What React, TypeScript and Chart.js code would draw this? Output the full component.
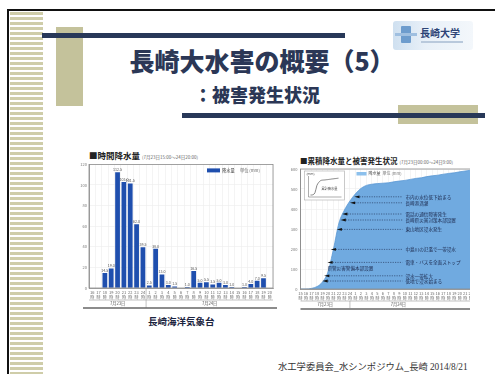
import React, { useEffect, useRef } from "react";
import { Chart, registerables } from "chart.js";

Chart.register(...registerables);

const FONT = "'Noto Sans CJK JP', 'Noto Sans', sans-serif";

// ---- left chart: hourly rainfall (mm) ----
const rainHours = ["16", "17", "18", "19", "20", "21", "22", "23", "24", "1", "2", "3", "4", "5", "6", "7", "8", "9", "10", "11", "12", "13", "14", "15", "16", "17", "18", "19", "20"];
const rainValues = [0, 0, 14.5, 19, 112.5, 103, 101.5, 62, 39.5, 2.5, 38, 13, 3, 1.5, 0, 1, 16.5, 5, 5.5, 3.5, 5, 3, 1, 0, 1, 4, 7, 9.5, 0];
const rainTicks = [0, 20, 40, 60, 80, 100, 120];
const rainDays = ["7月23日", "7月24日"];
const rainDayStart = [0, 9];

// ---- right chart: cumulative rainfall (mm) ----
const cumHours = ["15", "16", "17", "18", "19", "20", "21", "22", "23", "24", "1", "2", "3", "4", "5", "6", "7", "8", "9", "10", "11", "12", "13", "14", "15", "16", "17", "18", "19", "20", "21", "22"];
const cumValues = [0, 0, 3, 12, 35, 85, 200, 330, 395, 440, 476, 503, 518, 524, 527, 529, 531, 536, 540, 543, 548, 553, 556, 562, 566, 569, 574, 578, 581, 586, 590, 594];
const cumTicks = [0, 100, 200, 300, 400, 500, 600];
const cumDays = ["7月23日", "7月24日"];
const cumDayStart = [0, 9];

// damage events: label, time position (category index), cumulative level (mm)
const eventLabels = ["市内の水位低下始まる", "長崎港満潮", "電話の通信障害発生", "長崎県災害対策本部設置", "東山地区浸水発生", "中島川の氾濫で一帯浸水", "電車・バスを全面ストップ", "浸水一帯拡大", "低地で浸水始まる"];
const eventIndex = [10.2, 9.4, 8.0, 7.7, 7.0, 5.9, 5.3, 4.7, 4.4];
const eventLevel = [461, 431, 375, 345, 298, 198, 133, 66, 40];
const noteLabel = "県警災害警備本部設置";
const noteIndex = 4.9;
const noteLevel = 106;

const barDeco = {
  id: "barDeco",
  afterDatasetsDraw(chart: any) {
    const { ctx, chartArea: a, scales } = chart;
    const xs = scales.x;
    ctx.save();
    ctx.strokeStyle = "#8c8c8c";
    ctx.lineWidth = 0.8;
    ctx.strokeRect(a.left, a.top, a.right - a.left, a.bottom - a.top);
    const meta = chart.getDatasetMeta(0);
    ctx.fillStyle = "#555";
    ctx.font = `3.6px ${FONT}`;
    ctx.textAlign = "center";
    ctx.textBaseline = "bottom";
    rainValues.forEach((v, i) => {
      if (v > 0) {
        const el = meta.data[i];
        ctx.fillText(v.toFixed(1), el.x, el.y - 0.8);
      }
    });
    const lx = a.right - 66;
    const ly = a.top + 4;
    ctx.fillStyle = "#1f4fae";
    ctx.fillRect(lx, ly, 13, 4);
    ctx.fillStyle = "#333";
    ctx.font = `4.2px ${FONT}`;
    ctx.textAlign = "left";
    ctx.textBaseline = "middle";
    ctx.fillText("降水量", lx + 15, ly + 2);
    ctx.fillStyle = "#666";
    ctx.fillText("単位 (mm)", lx + 33, ly + 2);
    const yb = a.bottom;
    ctx.strokeStyle = "#999";
    ctx.lineWidth = 0.6;
    ctx.beginPath();
    ctx.moveTo(a.left, yb + 12);
    ctx.lineTo(a.right, yb + 12);
    ctx.stroke();
    rainDays.forEach((d, k) => {
      const s = rainDayStart[k];
      const e = k + 1 < rainDayStart.length ? rainDayStart[k + 1] : rainHours.length;
      const x0 = xs.getPixelForValue(s - 0.5);
      const x1 = xs.getPixelForValue(e - 0.5);
      if (k > 0) {
        ctx.beginPath();
        ctx.moveTo(x0, yb);
        ctx.lineTo(x0, yb + 20);
        ctx.stroke();
      }
      ctx.fillStyle = "#555";
      ctx.font = `4.2px ${FONT}`;
      ctx.textAlign = "center";
      ctx.fillText(d, (x0 + x1) / 2, yb + 15.5);
    });
    ctx.strokeStyle = "#666";
    ctx.lineWidth = 1.4;
    ctx.beginPath();
    ctx.moveTo(a.left - 6, yb + 20);
    ctx.lineTo(a.right + 4, yb + 20);
    ctx.stroke();
    ctx.restore();
  },
};

const areaDeco = {
  id: "areaDeco",
  afterDatasetsDraw(chart: any) {
    const { ctx, chartArea: a, scales } = chart;
    const xs = scales.x;
    const ys = scales.y;
    ctx.save();
    ctx.strokeStyle = "#8c8c8c";
    ctx.lineWidth = 0.8;
    ctx.strokeRect(a.left, a.top, a.right - a.left, a.bottom - a.top);

    const bx = a.left + 4;
    const by = a.top + 2;
    const bw = 40;
    const bh = 29;
    ctx.fillStyle = "#fff";
    ctx.fillRect(bx, by, bw, bh);
    ctx.strokeStyle = "#aaa";
    ctx.lineWidth = 0.6;
    ctx.strokeRect(bx, by, bw, bh);
    ctx.strokeStyle = "#777";
    ctx.beginPath();
    ctx.moveTo(bx + 4, by + 5);
    ctx.lineTo(bx + 4, by + bh - 3);
    ctx.lineTo(bx + bw - 3, by + bh - 3);
    ctx.stroke();
    ctx.strokeStyle = "#555";
    ctx.lineWidth = 0.7;
    ctx.beginPath();
    cumValues.forEach((v, i) => {
      const px = bx + 6 + (i / (cumValues.length - 1)) * (bw - 12);
      const py = by + bh - 5 - (v / 600) * (bh - 12);
      if (i === 0) ctx.moveTo(px, py);
      else ctx.lineTo(px, py);
    });
    ctx.stroke();
    ctx.fillStyle = "#444";
    ctx.font = `3.2px ${FONT}`;
    ctx.textAlign = "left";
    ctx.textBaseline = "middle";
    ctx.fillText("(mm)", bx + 2, by + 3);
    ctx.fillText("累計降水量", bx + 17, by + 18);

    const lx = a.left + 56;
    const ly = a.top + 3;
    ctx.fillStyle = "#8cc0ec";
    ctx.fillRect(lx, ly, 10, 3.5);
    ctx.fillStyle = "#444";
    ctx.font = `4px ${FONT}`;
    ctx.fillText("降水量", lx + 12, ly + 1.8);
    ctx.fillStyle = "#777";
    ctx.fillText("単位 (mm)", lx + 26, ly + 1.8);

    const tx = xs.getPixelForValue(19.1);
    eventLabels.forEach((label, i) => {
      const mx = xs.getPixelForValue(eventIndex[i]);
      const my = ys.getPixelForValue(eventLevel[i]);
      ctx.strokeStyle = "#1d2b4f";
      ctx.lineWidth = 0.6;
      ctx.setLineDash([1.2, 1.2]);
      ctx.beginPath();
      ctx.moveTo(mx + 3, my);
      ctx.lineTo(tx - 3, my);
      ctx.stroke();
      ctx.setLineDash([]);
      ctx.fillStyle = "#111";
      ctx.beginPath();
      ctx.moveTo(mx - 2.2, my);
      ctx.lineTo(mx + 3, my - 1.4);
      ctx.lineTo(mx + 3, my + 1.4);
      ctx.closePath();
      ctx.fill();
      ctx.fillStyle = "#1d2b4f";
      ctx.font = `4.6px ${FONT}`;
      ctx.textAlign = "left";
      ctx.textBaseline = "middle";
      ctx.fillText(label, tx, my);
    });
    ctx.fillStyle = "#1d2b4f";
    ctx.font = `4.6px ${FONT}`;
    ctx.fillText(noteLabel, xs.getPixelForValue(noteIndex), ys.getPixelForValue(noteLevel));

    const yb = a.bottom;
    ctx.strokeStyle = "#999";
    ctx.lineWidth = 0.6;
    ctx.beginPath();
    ctx.moveTo(a.left, yb + 12);
    ctx.lineTo(a.right, yb + 12);
    ctx.stroke();
    cumDays.forEach((d, k) => {
      const s = cumDayStart[k];
      const e = k + 1 < cumDayStart.length ? cumDayStart[k + 1] : cumHours.length - 1;
      const x0 = xs.getPixelForValue(s);
      const x1 = xs.getPixelForValue(e);
      if (k > 0) {
        ctx.beginPath();
        ctx.moveTo(x0, yb + 12);
        ctx.lineTo(x0, yb + 19);
        ctx.stroke();
      }
      ctx.fillStyle = "#555";
      ctx.font = `4.2px ${FONT}`;
      ctx.textAlign = "center";
      ctx.fillText(d, (x0 + x1) / 2 - (k > 0 ? 12 : 0), yb + 15.5);
    });
    ctx.strokeStyle = "#666";
    ctx.lineWidth = 1.4;
    ctx.beginPath();
    ctx.moveTo(a.left, yb + 20);
    ctx.lineTo(a.right, yb + 20);
    ctx.stroke();
    ctx.restore();
  },
};

export default function App() {
  const barRef = useRef<HTMLCanvasElement>(null);
  const areaRef = useRef<HTMLCanvasElement>(null);

  useEffect(() => {
    Chart.defaults.font.family = FONT;
    const bar = new Chart(barRef.current as HTMLCanvasElement, {
      type: "bar",
      data: {
        labels: rainHours,
        datasets: [
          {
            label: "降水量",
            data: rainValues,
            backgroundColor: "#1f4fae",
            barPercentage: 0.75,
            categoryPercentage: 1,
          },
        ],
      },
      options: {
        responsive: false,
        animation: false,
        layout: { padding: { top: 3, right: 5, left: 0, bottom: 0 } },
        plugins: { legend: { display: false }, tooltip: { enabled: false } },
        scales: {
          x: {
            grid: { color: "#ececec", lineWidth: 0.6, drawTicks: false },
            border: { color: "#8c8c8c", width: 0.8 },
            ticks: {
              autoSkip: false,
              maxRotation: 0,
              minRotation: 0,
              padding: 2,
              color: "#666",
              font: { size: 4, lineHeight: 1.2 },
              callback: (_v: any, i: number) => [rainHours[i], "時"],
            },
            afterFit: (s: any) => {
              s.height = 24;
            },
          },
          y: {
            min: 0,
            max: 120,
            grid: { color: "#ececec", lineWidth: 0.6, drawTicks: false },
            border: { color: "#8c8c8c", width: 0.8 },
            ticks: { color: "#777", padding: 2, font: { size: 4 } },
            afterBuildTicks: (s: any) => {
              s.ticks = rainTicks.map((v) => ({ value: v }));
            },
            afterFit: (s: any) => {
              s.width = 9;
            },
          },
        },
      },
      plugins: [barDeco],
    } as any);

    const area = new Chart(areaRef.current as HTMLCanvasElement, {
      type: "line",
      data: {
        labels: cumHours,
        datasets: [
          {
            label: "降水量",
            data: cumValues,
            fill: "origin",
            backgroundColor: "#70aae0",
            borderColor: "#5b98d4",
            borderWidth: 0.8,
            pointRadius: 0,
            cubicInterpolationMode: "monotone",
          },
        ],
      },
      options: {
        responsive: false,
        animation: false,
        layout: { padding: { top: 9, right: 3, left: 0, bottom: 0 } },
        plugins: { legend: { display: false }, tooltip: { enabled: false } },
        scales: {
          x: {
            grid: { color: "#ececec", lineWidth: 0.6, drawTicks: false },
            border: { color: "#8c8c8c", width: 0.8 },
            ticks: {
              autoSkip: false,
              maxRotation: 0,
              minRotation: 0,
              padding: 2,
              color: "#666",
              font: { size: 4, lineHeight: 1.2 },
              callback: (_v: any, i: number) => [cumHours[i], "時"],
            },
            afterFit: (s: any) => {
              s.height = 23;
            },
          },
          y: {
            min: 0,
            max: 600,
            grid: { color: "#ececec", lineWidth: 0.6, drawTicks: false },
            border: { color: "#8c8c8c", width: 0.8 },
            ticks: { color: "#777", padding: 3, font: { size: 4 } },
            afterBuildTicks: (s: any) => {
              s.ticks = cumTicks.map((v) => ({ value: v }));
            },
            afterFit: (s: any) => {
              s.width = 15.5;
            },
          },
        },
      },
      plugins: [areaDeco],
    } as any);

    return () => {
      bar.destroy();
      area.destroy();
    };
  }, []);

  const abs = (o: React.CSSProperties): React.CSSProperties => ({ position: "absolute", ...o });
  const navy = "#283858";
  const olive = "#c4c29b";

  return (
    <div
      style={{
        position: "fixed",
        left: 0,
        top: 0,
        width: 495,
        height: 374,
        background: "#fff",
        overflow: "hidden",
        fontFamily: FONT,
      }}
    >
      <div style={abs({ left: 7, top: 9, width: 488, height: 2, background: "#111" })} />
      <div style={abs({ left: 7, top: 9, width: 2, height: 365, background: "#111" })} />
      <div
        style={abs({
          left: 10,
          top: 12,
          width: 33,
          height: 362,
          background: "repeating-linear-gradient(to bottom, #cfcda9 0px, #cfcda9 3px, #ffffff 3px, #ffffff 5px)",
        })}
      />
      <div style={abs({ left: 56, top: 27, width: 27, height: 79, background: olive })} />
      <div style={abs({ left: 42, top: 33, width: 303, height: 5, background: navy })} />
      <div style={abs({ left: 398, top: 105, width: 80, height: 19, background: olive })} />
      <div style={abs({ left: 182, top: 113, width: 303, height: 5, background: navy })} />

      <div
        style={abs({
          left: 393,
          top: 21,
          width: 80,
          height: 29,
          background: "linear-gradient(90deg, #cfe0f0 0%, #e8f0f8 40%, #f3f7fb 100%)",
          borderRadius: 3,
        })}
      >
        <div style={abs({ left: 8, top: 5, width: 10, height: 17, background: "#6d9ccd", borderRadius: 1 })} />
        <div style={abs({ left: 2, top: 12, width: 22, height: 3, background: "#9fbfe0" })} />
        <div
          style={abs({
            left: 27,
            top: 7,
            fontSize: 10,
            lineHeight: "10px",
            fontWeight: 700,
            color: "#2d4476",
            whiteSpace: "nowrap",
          })}
        >
          長崎大学
        </div>
        <div style={abs({ left: 28, top: 20, width: 42, height: 2, background: "#b9c9dc" })} />
      </div>

      <div
        style={abs({
          left: 112,
          top: 48,
          width: 300,
          textAlign: "center",
          fontSize: 25,
          lineHeight: "25px",
          fontWeight: 900,
          color: "#2b3756",
          whiteSpace: "nowrap",
        })}
      >
        長崎大水害の概要（5）
      </div>
      <div
        style={abs({
          left: 194,
          top: 85,
          fontSize: 18,
          lineHeight: "18px",
          fontWeight: 900,
          color: "#2b3756",
          whiteSpace: "nowrap",
        })}
      >
        ：被害発生状況
      </div>

      <div style={abs({ left: 89, top: 151, fontSize: 8.5, lineHeight: "8.5px", fontWeight: 700, color: "#222", whiteSpace: "nowrap" })}>
        ■時間降水量
        <span style={{ fontSize: 4.5, fontWeight: 400, color: "#666", marginLeft: 2 }}>(7月23日15:00～24日20:00)</span>
      </div>
      <canvas ref={barRef} width={198} height={152} style={abs({ left: 80, top: 160 })} />

      <div style={abs({ left: 285, top: 150, width: 185, height: 165, overflow: "hidden" })}>
        <div style={abs({ left: 15, top: 7, fontSize: 7.5, lineHeight: "7.5px", fontWeight: 700, color: "#222", whiteSpace: "nowrap" })}>
          ■累積降水量と被害発生状況
          <span style={{ fontSize: 4.5, fontWeight: 400, color: "#666", marginLeft: 2 }}>(7月23日00:00～24日9:00)</span>
        </div>
        <canvas ref={areaRef} width={190} height={152} style={abs({ left: 0, top: 10 })} />
      </div>

      <div style={abs({ left: 148, top: 317, fontSize: 9.5, lineHeight: "9.5px", fontWeight: 700, color: "#1c2440", whiteSpace: "nowrap" })}>
        長崎海洋気象台
      </div>
      <div style={abs({ left: 278, top: 362, fontSize: 9.3, lineHeight: "9.3px", color: "#333", whiteSpace: "nowrap" })}>
        水工学委員会_水シンポジウム_長崎 <span style={{ fontFamily: "'Liberation Serif', serif" }}>2014/8/21</span>
      </div>
    </div>
  );
}
